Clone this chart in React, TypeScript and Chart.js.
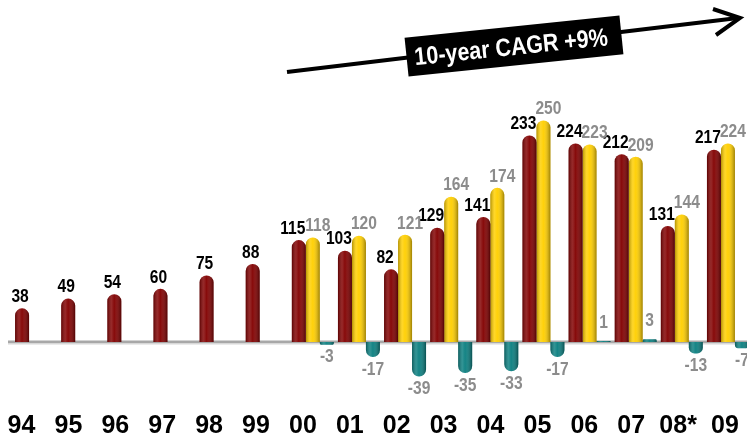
import React, { useEffect, useRef } from "react";
import { Chart, registerables } from "chart.js";
Chart.register(...registerables);

const years = ["94", "95", "96", "97", "98", "99", "00", "01", "02", "03", "04", "05", "06", "07", "08*", "09"];
const seriesRed = [38, 49, 54, 60, 75, 88, 115, 103, 82, 129, 141, 233, 224, 212, 131, 217];
const seriesYellow = [null, null, null, null, null, null, 118, 120, 121, 164, 174, 250, 223, 209, 144, 224];
const seriesTeal = [null, null, null, null, null, null, -3, -17, -39, -35, -33, -17, 1, 3, -13, -7];
const cagrLabel = "10-year CAGR +9%";

const FONT = '"Liberation Sans Narrow", "Arial Narrow", "Liberation Sans", Arial, sans-serif';
const W = 760;
const H = 438;

function narrowText(ctx: CanvasRenderingContext2D, text: string, x: number, y: number, sx: number) {
  ctx.save();
  ctx.translate(x, y);
  ctx.scale(sx, 1);
  ctx.fillText(text, 0, 0);
  ctx.restore();
}

const shadePlugin = {
  id: "shade",
  afterDatasetsDraw(chart: any) {
    const ctx = chart.ctx;
    chart.data.datasets.forEach((ds: any, d: number) => {
      const meta = chart.getDatasetMeta(d);
      meta.data.forEach((el: any, i: number) => {
        if (ds.data[i] == null) return;
        const p = el.getProps(["x", "width"], true);
        const g = ctx.createLinearGradient(p.x - p.width / 2, 0, p.x + p.width / 2, 0);
        g.addColorStop(0, "rgba(0,0,0,0.30)");
        g.addColorStop(0.3, "rgba(255,255,255,0.16)");
        g.addColorStop(0.5, "rgba(255,255,255,0.04)");
        g.addColorStop(1, "rgba(0,0,0,0.38)");
        const fake = Object.create(el);
        fake.options = { ...el.options, backgroundColor: g, borderWidth: 0 };
        fake.draw(ctx, chart.chartArea);
      });
    });
  },
};

const baselinePlugin = {
  id: "baseline",
  beforeDatasetsDraw(chart: any) {
    const ctx = chart.ctx;
    const y0 = chart.scales.y.getPixelForValue(0);
    ctx.save();
    ctx.fillStyle = "#a8a8a8";
    ctx.fillRect(8, y0 - 1.5, chart.width, 2.5);
    ctx.fillStyle = "#d8d8d8";
    ctx.fillRect(8, y0 + 1, chart.width, 1.5);
    ctx.restore();
  },
};

const labelPlugin = {
  id: "valueLabels",
  afterDatasetsDraw(chart: any) {
    const ctx = chart.ctx;
    ctx.save();
    ctx.font = `bold 19px ${FONT}`;
    ctx.textAlign = "center";
    chart.data.datasets.forEach((ds: any, d: number) => {
      const meta = chart.getDatasetMeta(d);
      meta.data.forEach((el: any, i: number) => {
        const v = ds.data[i];
        if (v == null) return;
        const p = el.getProps(["x", "y"], true);
        let dx = 0;
        if (d === 0) dx = seriesYellow[i] != null ? -6 : -2;
        if (d === 1) dx = 5;
        ctx.fillStyle = d === 0 ? "#000000" : "#8c8c8c";
        if (v >= 0) {
          ctx.textBaseline = "bottom";
          narrowText(ctx, String(v), p.x + dx, p.y - (d === 2 ? 9 : 2), 0.82);
        } else {
          ctx.textBaseline = "top";
          narrowText(ctx, String(v), p.x + dx, p.y + 3, 0.82);
        }
      });
    });
    ctx.restore();
  },
};

const arrowPlugin = {
  id: "cagrArrow",
  afterDraw(chart: any) {
    const ctx = chart.ctx;
    ctx.save();
    ctx.strokeStyle = "#000";
    ctx.lineWidth = 4;
    ctx.lineCap = "butt";
    ctx.beginPath();
    ctx.moveTo(287, 72);
    ctx.lineTo(738, 18);
    ctx.stroke();
    ctx.lineJoin = "miter";
    ctx.beginPath();
    ctx.moveTo(713, 9);
    ctx.lineTo(740, 18);
    ctx.lineTo(716, 35);
    ctx.stroke();
    ctx.translate(514, 46);
    ctx.rotate((-5.9 * Math.PI) / 180);
    ctx.fillStyle = "#000";
    ctx.fillRect(-108, -19.5, 216, 39);
    ctx.fillStyle = "#fff";
    ctx.font = `bold 25px ${FONT}`;
    ctx.textAlign = "center";
    ctx.textBaseline = "middle";
    narrowText(ctx, cagrLabel, -3, 2, 0.86);
    ctx.restore();
  },
};

export default function App() {
  const ref = useRef<HTMLCanvasElement>(null);
  useEffect(() => {
    if (!ref.current) return;
    const pxPerUnit = 0.886;
    const zeroY = 342;
    const bottom = 411;
    const left = 13;
    const right = 9;
    const areaW = W - left - right;
    const labelStep = 46.9;
    const firstLabelX = 21.5;
    const lMin = -(firstLabelX - left) / labelStep;
    const lMax = lMin + areaW / labelStep;
    const bar = { categoryPercentage: 0.91, barPercentage: 1, borderRadius: 7, borderSkipped: "start" as const };
    const chart = new Chart(ref.current, {
      type: "bar",
      data: {
        labels: years,
        datasets: [
          { label: "A", data: seriesRed, backgroundColor: "#820000", ...bar },
          { label: "B", data: seriesYellow as any, backgroundColor: "#ffcf00", ...bar },
          { label: "C", data: seriesTeal as any, backgroundColor: "#0b7f80", ...bar },
        ],
      },
      options: {
        responsive: false,
        animation: false,
        layout: { padding: { left, right, top: 0, bottom: 0 } },
        plugins: { legend: { display: false }, tooltip: { enabled: false } },
        scales: {
          x: { type: "category", display: false, offset: true },
          xl: {
            type: "linear",
            position: "bottom",
            offset: false,
            min: lMin,
            max: lMax,
            grid: { display: false, drawTicks: false, offset: false },
            border: { display: false },
            afterBuildTicks: (axis: any) => {
              axis.ticks = years.map((_, i) => ({ value: i }));
            },
            afterFit: (axis: any) => {
              axis.height = H - bottom;
            },
            ticks: {
              autoSkip: false,
              maxRotation: 0,
              padding: 0,
              color: "#000",
              font: { family: FONT, size: 25, weight: "bold" },
              callback: (v: any) => years[v as number] ?? "",
            },
          },
          y: {
            display: false,
            min: -(bottom - zeroY) / pxPerUnit,
            max: zeroY / pxPerUnit,
          },
        },
      } as any,
      plugins: [baselinePlugin, shadePlugin, labelPlugin, arrowPlugin],
    });
    return () => chart.destroy();
  }, []);
  return (
    <div style={{ position: "fixed", left: 0, top: 0, width: 747, height: 438, overflow: "hidden", background: "#fff" }}>
      <canvas ref={ref} width={W} height={H} style={{ width: W, height: H, display: "block" }} />
    </div>
  );
}
